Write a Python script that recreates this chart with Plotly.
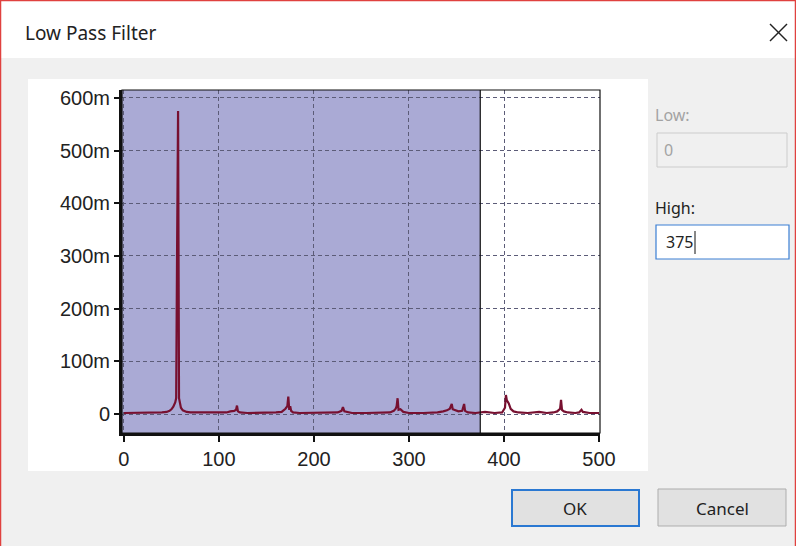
import plotly.graph_objects as go

# spectrum (frequency, magnitude)
freq = [0, 10, 20, 30, 40, 45, 48, 50, 52, 54, 55, 56, 57, 58, 59, 60, 62, 64, 66, 70,
        80, 90, 100, 108, 112, 116, 118, 119, 120, 122, 130, 140, 150, 160, 166, 170,
        172, 173, 174, 175, 176, 178, 185, 200, 215, 225, 229, 230.5, 232, 234, 240,
        255, 270, 280, 284, 286, 287, 288, 289, 291, 294, 300, 315, 330, 336, 340, 343,
        345, 346, 348, 352, 356, 358, 359, 362, 370, 380, 390, 398, 401, 402, 403, 405,
        407, 410, 415, 425, 437, 445, 452, 456, 459, 460, 461, 463, 467, 475, 479, 481.5,
        483, 490, 500]
mag = [0.002, 0.002, 0.003, 0.002, 0.003, 0.004, 0.006, 0.009, 0.014, 0.022, 0.03, 0.32,
       0.575, 0.03, 0.02, 0.012, 0.007, 0.005, 0.004, 0.003, 0.003, 0.002, 0.002, 0.003,
       0.005, 0.006, 0.008, 0.016, 0.005, 0.003, 0.002, 0.002, 0.003, 0.003, 0.004,
       0.01, 0.015, 0.033, 0.008, 0.015, 0.006, 0.003, 0.002, 0.002, 0.002, 0.003, 0.006,
       0.013, 0.005, 0.004, 0.002, 0.002, 0.002, 0.003, 0.006, 0.01, 0.015, 0.03, 0.008,
       0.009, 0.004, 0.002, 0.002, 0.003, 0.005, 0.007, 0.01, 0.019, 0.009, 0.008,
       0.005, 0.006, 0.019, 0.006, 0.003, 0.002, 0.004, 0.002, 0.003, 0.012, 0.036,
       0.026, 0.02, 0.01, 0.005, 0.003, 0.002, 0.004, 0.002, 0.003, 0.005, 0.01, 0.027,
       0.008, 0.005, 0.003, 0.002, 0.003, 0.008, 0.004, 0.002, 0.002]

x_ticks = [0, 100, 200, 300, 400, 500]
y_ticks = [0, 0.1, 0.2, 0.3, 0.4, 0.5, 0.6]
y_tick_text = ["0", "100m", "200m", "300m", "400m", "500m", "600m"]
low_cut = 0
high_cut = 375

W, H = 796, 546


def px(x):
    return x / W


def py(y):
    return 1 - y / H


fig = go.Figure()
fig.add_trace(
    go.Scatter(
        x=freq,
        y=mag,
        mode="lines",
        line=dict(color="#771030", width=2.2),
        hoverinfo="skip",
        showlegend=False,
    )
)

shapes = []


def rect(x0, y0, x1, y1, fill, line="rgba(0,0,0,0)", lw=0, layer="below"):
    shapes.append(dict(type="rect", xref="paper", yref="paper",
                       x0=px(x0), x1=px(x1), y0=py(y1), y1=py(y0),
                       fillcolor=fill, line=dict(color=line, width=lw), layer=layer))


def seg(x0, y0, x1, y1, color, lw=1, layer="above"):
    shapes.append(dict(type="line", xref="paper", yref="paper",
                       x0=px(x0), x1=px(x1), y0=py(y0), y1=py(y1),
                       line=dict(color=color, width=lw), layer=layer))


# dialog chrome
rect(0, 0, W, 58, "white")
rect(28, 79, 648, 471, "white")
rect(657, 133, 787, 167, "#f0f0f0", "#cccccc", 1)
rect(656, 225, 789, 259, "white", "#3a7fd4", 1.2)
rect(512, 490, 639, 526, "#e1e1e1", "#2a78d2", 2)
rect(658, 489, 786, 526, "#e1e1e1", "#adadad", 1)
seg(770, 24, 787, 41, "#222222", 1.4)
seg(787, 24, 770, 41, "#222222", 1.4)
seg(695, 231, 695, 254, "#111111", 1)
seg(0.5, 0, 0.5, H, "#e0413f", 1.5)
seg(0, 0.5, W, 0.5, "#e0413f", 1.5)
seg(W - 0.5, 0, W - 0.5, H, "#e0413f", 1.5)

# pass band
shapes.append(dict(type="rect", xref="x", yref="y domain", x0=-2, x1=high_cut, y0=0, y1=1,
                   fillcolor="#aaaad5", line=dict(width=0), layer="below"))
shapes.append(dict(type="line", xref="x", yref="y domain", x0=high_cut, x1=high_cut, y0=0, y1=1,
                   line=dict(color="#111111", width=1.2), layer="above"))
shapes.append(dict(type="rect", xref="x domain", yref="y domain", x0=0, x1=1, y0=0, y1=1,
                   line=dict(color="#111111", width=1.2), layer="above"))

ui_font = "Noto Sans"


def label(x, y, text, size=16, color="#222222", anchor="left"):
    return dict(xref="paper", yref="paper", x=px(x), y=py(y), text=text, showarrow=False,
                xanchor=anchor, yanchor="middle", font=dict(family=ui_font, size=size, color=color))


annotations = [
    label(23, 33, "Low Pass Filter", 19),
    label(653, 115, "Low:", 16, "#a3a3a3"),
    label(662, 150, str(low_cut), 16, "#a3a3a3"),
    label(653, 208, "High:", 16),
    label(664, 242, str(high_cut), 16),
    label(575, 508, "OK", 17, anchor="center"),
    label(722, 508, "Cancel", 17, anchor="center"),
]

axis_font = dict(family="Liberation Sans, Arial", size=20, color="#222222")
fig.update_layout(
    width=W,
    height=H,
    autosize=False,
    margin=dict(l=0, r=0, t=0, b=0, pad=0, autoexpand=False),
    paper_bgcolor="#f0f0f0",
    plot_bgcolor="white",
    shapes=shapes,
    annotations=annotations,
    xaxis=dict(
        domain=[px(122), px(600)],
        range=[-2, 501],
        tickvals=x_ticks,
        automargin=False,
        showgrid=True,
        gridcolor="#5c5c78",
        griddash="4px,3px",
        gridwidth=1,
        zeroline=False,
        showline=True,
        linecolor="#111111",
        linewidth=3,
        ticks="outside",
        ticklen=6,
        tickwidth=1.5,
        tickcolor="#111111",
        tickfont=axis_font,
    ),
    yaxis=dict(
        domain=[py(433), py(90)],
        range=[-0.036, 0.615],
        tickvals=y_ticks,
        ticktext=y_tick_text,
        automargin=False,
        showgrid=True,
        gridcolor="#5c5c78",
        griddash="4px,3px",
        gridwidth=1,
        zeroline=False,
        showline=True,
        linecolor="#111111",
        linewidth=3,
        ticks="outside",
        ticklen=5,
        tickwidth=1.5,
        tickcolor="#111111",
        tickfont=axis_font,
    ),
)

# the page's default body margin would shift the dialog by 8px
fig.write_html(
    "out.html",
    config={"responsive": False, "displayModeBar": False},
    post_script="document.body.style.margin = '0'; document.body.style.overflow = 'hidden';",
)
